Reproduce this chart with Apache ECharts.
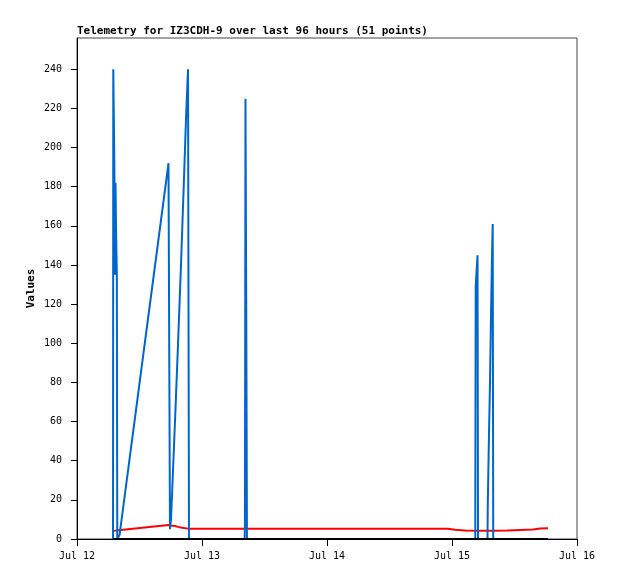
<!DOCTYPE html>
<html>
<head>
<meta charset="utf-8">
<script src="https://cdn.jsdelivr.net/npm/echarts@6/dist/echarts.min.js"></script>
<style>html,body{margin:0;padding:0;background:#fff}#c{width:618px;height:579px}</style>
</head>
<body>
<div id="c"></div>
<script>
const titleText = 'Telemetry for IZ3CDH-9 over last 96 hours (51 points)';
const yName = 'Values';
const times = [
 '2023-07-12 06:55','2023-07-12 06:58','2023-07-12 07:10','2023-07-12 07:18','2023-07-12 07:24',
 '2023-07-12 07:29','2023-07-12 07:39','2023-07-12 07:44','2023-07-12 07:58','2023-07-12 08:10',
 '2023-07-12 17:34','2023-07-12 17:43','2023-07-12 17:51','2023-07-12 18:03','2023-07-12 18:49',
 '2023-07-12 19:24','2023-07-12 19:58','2023-07-12 20:33','2023-07-12 20:56','2023-07-12 21:19',
 '2023-07-12 21:30','2023-07-13 01:32','2023-07-13 08:11','2023-07-13 08:15','2023-07-13 08:21',
 '2023-07-13 08:30','2023-07-13 08:38','2023-07-13 18:49','2023-07-14 06:20','2023-07-14 17:51',
 '2023-07-14 21:42','2023-07-14 23:14','2023-07-15 00:35','2023-07-15 02:30','2023-07-15 04:28',
 '2023-07-15 04:33','2023-07-15 04:54','2023-07-15 05:00','2023-07-15 06:49','2023-07-15 06:52',
 '2023-07-15 07:04','2023-07-15 07:18','2023-07-15 07:29','2023-07-15 07:41','2023-07-15 07:49',
 '2023-07-15 07:55','2023-07-15 10:34','2023-07-15 13:03','2023-07-15 15:33','2023-07-15 16:54',
 '2023-07-15 18:26'
];
const blueValues = [
 0,240,193,135,182,160,135,0,0,2,
 192,92,5,10,60,100,140,185,215,240,
 0,0,0,8,225,113,0,0,0,0,
 0,0,0,0,0,129,145,0,0,17,
 48,81,113,145,161,0,0,0,0,0,
 0
];
const redValues = [
 4.2,4.2,4.2,4.3,4.3,4.3,4.4,4.4,4.5,4.7,
 7.1,7.1,7.0,6.9,6.6,6.2,5.9,5.6,5.4,5.3,
 5.3,5.3,5.3,5.3,5.3,5.3,5.3,5.3,5.3,5.3,
 5.3,5.2,4.7,4.4,4.2,4.2,4.2,4.2,4.2,4.2,
 4.2,4.2,4.2,4.2,4.2,4.2,4.3,4.6,4.8,5.4,
 5.5
];
const zeroValues = [
 0,0,0,0,0,0,0,0,0,0,
 0,0,0,0,0,0,0,0,0,0,
 0,0,0,0,0,0,0,0,0,0,
 0,0,0,0,0,0,0,0,0,0,
 0,0,0,0,0,0,0,0,0,0,
 0
];
const xStart = '2023-07-12 00:00';
const xEnd = '2023-07-16 00:00';
const monthNames = ['Jan','Feb','Mar','Apr','May','Jun','Jul','Aug','Sep','Oct','Nov','Dec'];

function toMs(s){
  const [d,t]=s.split(' ');
  const [Y,M,D]=d.split('-').map(Number);
  const [h,m]=t.split(':').map(Number);
  return Date.UTC(Y,M-1,D,h,m);
}
const xs = times.map(toMs);
const pair = vals => xs.map((x,i)=>[x,vals[i]]);
const DAY = 86400000;
const mono = 'DejaVu Sans Mono';

const chart = echarts.init(document.getElementById('c'), null, {renderer:'canvas'});
chart.setOption({
  animation:false,
  title:{text:titleText,left:77,top:26,padding:0,
    textStyle:{fontFamily:mono,fontSize:11,fontWeight:'bold',color:'#000'}},
  grid:{left:77,right:41,top:38,bottom:40,show:true,borderColor:'#444',borderWidth:1,backgroundColor:'transparent'},
  xAxis:{type:'value',min:toMs(xStart),max:toMs(xEnd),interval:DAY,
    axisLine:{show:true,lineStyle:{color:'#000',width:1}},
    axisTick:{show:true,length:7,inside:false,lineStyle:{color:'#000'}},
    splitLine:{show:false},
    axisLabel:{margin:12,fontFamily:mono,fontSize:10,color:'#000',
      formatter:v=>{const d=new Date(v);return monthNames[d.getUTCMonth()]+' '+d.getUTCDate();}}
  },
  yAxis:{type:'value',min:0,max:256,interval:20,name:yName,nameLocation:'middle',nameGap:40,nameMoveOverlap:false,
    nameTextStyle:{fontFamily:mono,fontSize:11,fontWeight:'bold',color:'#000'},
    axisLine:{show:true,lineStyle:{color:'#000',width:1}},
    axisTick:{show:true,length:6,lineStyle:{color:'#000'}},
    splitLine:{show:false},
    axisLabel:{margin:15,fontFamily:mono,fontSize:10,color:'#000',showMaxLabel:false}
  },
  series:[
    {name:'red',type:'line',data:pair(redValues),showSymbol:false,lineStyle:{color:'#ff0000',width:2},itemStyle:{color:'#ff0000'},z:2},
    {name:'blue',type:'line',data:pair(blueValues),showSymbol:false,lineStyle:{color:'#0066cc',width:2},itemStyle:{color:'#0066cc'},z:3},
    {name:'zero',type:'line',data:pair(zeroValues),showSymbol:false,lineStyle:{color:'#000000',width:2},itemStyle:{color:'#000'},z:4}
  ]
});
</script>
</body>
</html>
